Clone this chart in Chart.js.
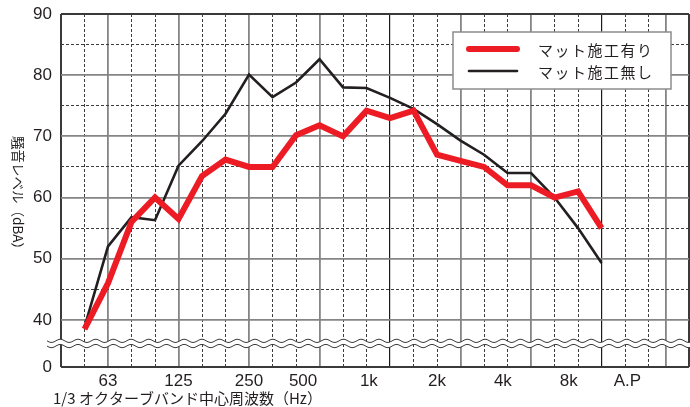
<!DOCTYPE html>
<html lang="ja">
<head>
<meta charset="UTF-8">
<title>騒音レベル</title>
<style>
  html, body { margin: 0; padding: 0; background: #fff; }
  canvas { display: block; }
</style>
</head>
<body>
<canvas id="noiseChart" width="690" height="407"></canvas>

<script src="https://cdn.jsdelivr.net/npm/chart.js"></script>
<script>
// 1/3 octave band centre frequencies (Hz), one point each
const bands = ['50', '63', '80', '100', '125', '160', '200', '250', '315', '400', '500', '630',
               '800', '1k', '1.25k', '1.6k', '2k', '2.5k', '3.15k', '4k', '5k', '6.3k', '8k'];

// dBA
const withMat    = [38.5, 46.0, 56.0, 60.0, 56.5, 63.5, 66.2, 65.0, 65.0, 70.2, 71.8, 70.0,
                    74.2, 73.0, 74.2, 67.0, 66.0, 65.0, 62.0, 62.0, 60.0, 61.0, 55.0];
const withoutMat = [38.8, 52.0, 56.8, 56.3, 65.2, 69.2, 73.7, 80.1, 76.4, 78.8, 82.6, 78.0,
                    77.9, 76.3, 74.5, 72.0, 69.3, 67.0, 64.0, 64.0, 60.0, 55.0, 49.3];

// bottom axis labels and where they sit, in band-index units
const xLabels  = ['63', '125', '250', '500', '1k', '2k', '4k', '8k', 'A.P'];
const xLabelAt = [1, 4, 7, 9.3, 12.1, 15, 17.8, 20.6, 23.1];

// left axis labels (the axis is broken between 0 and 40)
const yLabels = [40, 50, 60, 70, 80, 90];

const Y_BREAK = 32.3;          // value at the bottom edge, shown as "0"
const X_MIN = -1, X_MAX = 25.72;

// vertical grid: every band, solid on octaves
const gridX = [];
for (let i = X_MIN; i <= 24; i++) gridX.push(i);
gridX.push(24.75, X_MAX);
const octaveX = [1, 4, 7, 10, 16, 19, 24.75];
const blackX = [13, 22];

const gridY = [Y_BREAK, 40, 45, 50, 55, 60, 65, 70, 75, 80, 85, 90];

const RED = '#ed1c24';
const INK = '#231f20';

function xGridColor(c) {
    if (!c.tick) return '#444';
    const v = c.tick.value;
    if (v === X_MIN || v === X_MAX) return '#3a3a3a';
    if (blackX.includes(v)) return '#1a1a1a';
    if (octaveX.includes(v)) return '#858585';
    return '#3c3c3c';
}
function xGridWidth(c) {
    if (!c.tick) return 1;
    const v = c.tick.value;
    if (v === X_MIN || v === X_MAX) return 2;
    if (blackX.includes(v)) return 1.2;
    if (octaveX.includes(v)) return 1.8;
    return 1;
}
function xGridDash(c) {
    if (!c.tick) return [];
    const v = c.tick.value;
    if (v === X_MIN || v === X_MAX || blackX.includes(v) || octaveX.includes(v)) return [];
    return [3, 2];
}

function yGridColor(c) {
    if (!c.tick) return '#444';
    const v = c.tick.value;
    if (v === Y_BREAK || v === 90) return '#3a3a3a';
    if (v % 10 === 0) return '#858585';
    return '#3c3c3c';
}
function yGridWidth(c) {
    if (!c.tick) return 1;
    const v = c.tick.value;
    if (v === Y_BREAK || v === 90) return 2;
    if (v % 10 === 0) return 1.8;
    return 1;
}
function yGridDash(c) {
    if (!c.tick) return [];
    return (c.tick.value % 10 === 5) ? [3, 2] : [];
}

// wavy axis break, legend box and the two axis titles
const decor = {
    id: 'decor',
    afterDraw(chart) {
        const ctx = chart.ctx;
        const area = chart.chartArea;
        const yc = chart.scales.y.getPixelForValue((40 + Y_BREAK) / 2);

        // axis break
        const x0 = 47, x1 = chart.width;
        const wave = (x, off) => yc + off + 1.6 * Math.sin((x - x0) / 17.7 * Math.PI * 2);
        ctx.save();
        ctx.beginPath();
        for (let x = x0; x <= x1; x++) ctx.lineTo(x, wave(x, -2.6));
        for (let x = x1; x >= x0; x--) ctx.lineTo(x, wave(x, 2.6));
        ctx.closePath();
        ctx.fillStyle = '#fff';
        ctx.fill();
        ctx.strokeStyle = '#3a3a3a';
        ctx.lineWidth = 1;
        [-2.6, 2.6].forEach(off => {
            ctx.beginPath();
            for (let x = x0; x <= x1; x++) ctx.lineTo(x, wave(x, off));
            ctx.stroke();
        });
        ctx.restore();

        // legend
        const lx = area.right - 236, ly = area.top + 18;
        ctx.save();
        ctx.fillStyle = '#fff';
        ctx.fillRect(lx, ly, 218, 57);
        ctx.strokeStyle = '#8c8c8c';
        ctx.lineWidth = 1.5;
        ctx.strokeRect(lx, ly, 218, 57);
        chart.data.datasets.forEach((ds, i) => {
            const yy = ly + 17 + i * 22;
            ctx.beginPath();
            ctx.moveTo(lx + 16, yy);
            ctx.lineTo(lx + 64, yy);
            ctx.strokeStyle = ds.borderColor;
            ctx.lineWidth = ds.borderWidth;
            ctx.lineCap = 'round';
            ctx.stroke();
            ctx.fillStyle = INK;
            ctx.font = '15px "Noto Sans CJK JP"';
            ctx.letterSpacing = '1.5px';
            ctx.textBaseline = 'middle';
            ctx.textAlign = 'left';
            ctx.fillText(ds.label, lx + 85, yy + 1);
        });
        ctx.restore();

        // y title, written top to bottom
        ctx.save();
        ctx.fillStyle = INK;
        ctx.font = '13.5px "Noto Sans CJK JP"';
        ctx.textAlign = 'center';
        ctx.textBaseline = 'middle';
        ctx.translate(18, 196);
        ctx.rotate(Math.PI / 2);
        ctx.fillText('騒音レベル（dBA）', 0, 0);
        ctx.restore();

        // x title
        ctx.save();
        ctx.fillStyle = INK;
        ctx.font = '15px "Noto Sans CJK JP"';
        ctx.textAlign = 'left';
        ctx.textBaseline = 'middle';
        ctx.fillText('1/3 オクターブバンド中心周波数（Hz）', 53, 398);
        ctx.restore();
    }
};

const ctx = document.getElementById('noiseChart').getContext('2d');
const chart = new Chart(ctx, {
    type: 'line',
    data: {
        datasets: [{
            label: 'マット施工有り',
            data: withMat.map((v, i) => ({ x: i, y: v })),
            borderColor: RED,
            borderWidth: 6,
            borderJoinStyle: 'miter',
            pointRadius: 0,
            tension: 0
        }, {
            label: 'マット施工無し',
            data: withoutMat.map((v, i) => ({ x: i, y: v })),
            borderColor: INK,
            borderWidth: 2.6,
            borderJoinStyle: 'miter',
            pointRadius: 0,
            tension: 0
        }]
    },
    options: {
        responsive: false,
        animation: false,
        layout: { padding: { top: 14, right: 1, left: 0, bottom: 0 } },
        plugins: {
            legend: { display: false },
            tooltip: { enabled: false }
        },
        scales: {
            x: {
                type: 'linear',
                position: 'bottom',
                min: X_MIN,
                max: X_MAX,
                afterBuildTicks: s => { s.ticks = xLabelAt.map(v => ({ value: v })); },
                afterFit: s => { s.height = 40; s.paddingLeft = 0; s.paddingRight = 0; },
                ticks: {
                    autoSkip: false,
                    maxRotation: 0,
                    padding: 4,
                    color: INK,
                    font: { family: 'Liberation Sans', size: 17 },
                    callback: (v, i) => xLabels[i]
                },
                grid: { display: false, drawTicks: false },
                border: { display: false }
            },
            xg: {
                type: 'linear',
                position: 'top',
                min: X_MIN,
                max: X_MAX,
                afterBuildTicks: s => { s.ticks = gridX.map(v => ({ value: v })); },
                afterFit: s => { s.height = 0; s.paddingLeft = 0; s.paddingRight = 0; },
                ticks: { display: false, autoSkip: false },
                grid: { drawTicks: false, color: xGridColor, lineWidth: xGridWidth },
                border: { display: false, dash: xGridDash }
            },
            y: {
                min: Y_BREAK,
                max: 90,
                afterBuildTicks: s => { s.ticks = gridY.map(v => ({ value: v })); },
                afterFit: s => { s.width = 61; s.paddingTop = 0; s.paddingBottom = 0; },
                ticks: {
                    autoSkip: false,
                    padding: 9,
                    color: INK,
                    font: { family: 'Liberation Sans', size: 17 },
                    callback: v => v === Y_BREAK ? '0' : (yLabels.includes(v) ? String(v) : '')
                },
                grid: { drawTicks: false, color: yGridColor, lineWidth: yGridWidth },
                border: { display: false, dash: yGridDash }
            }
        }
    },
    plugins: [decor]
});
</script>
</body>
</html>
